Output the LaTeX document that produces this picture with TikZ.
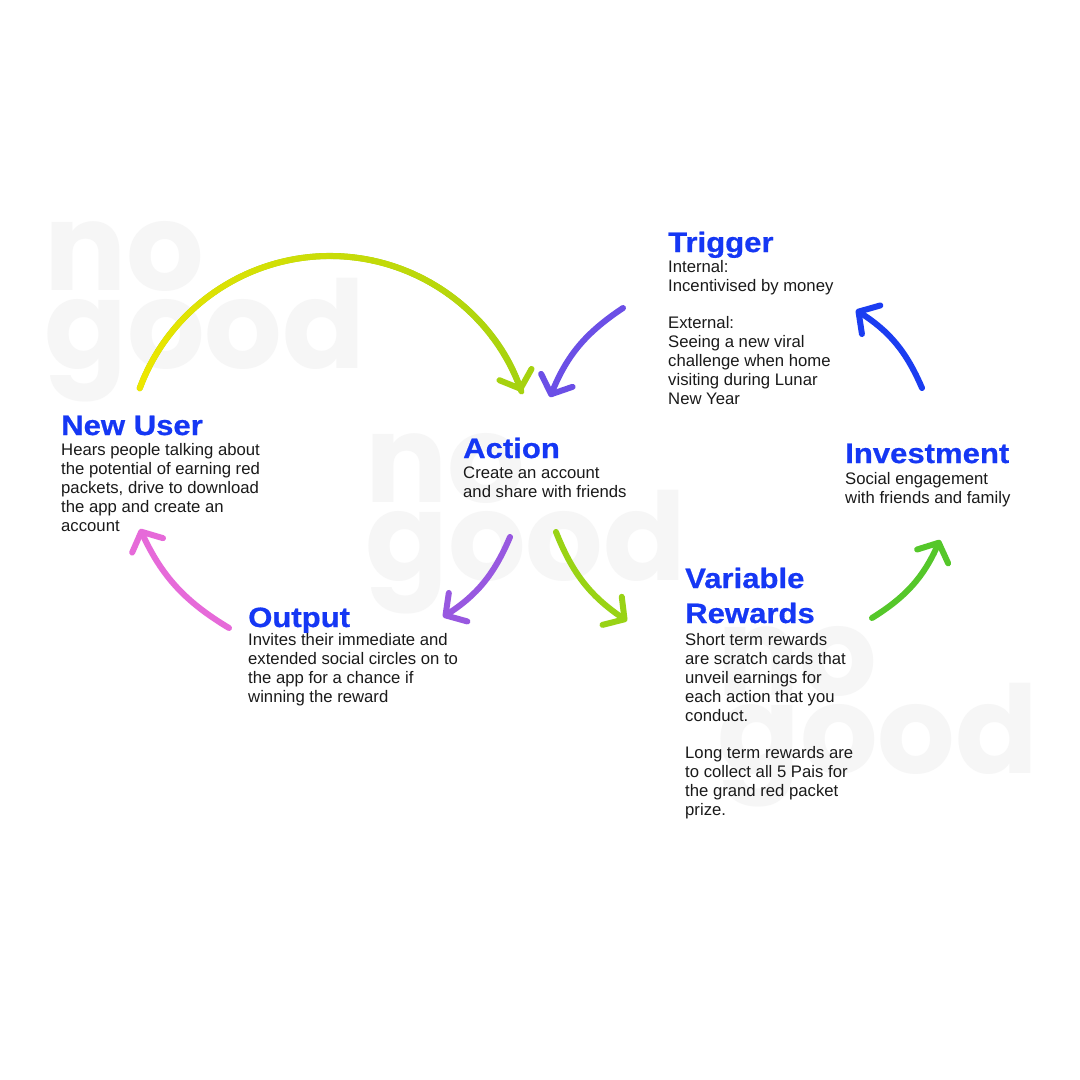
\documentclass[tikz,border=0pt]{standalone}
\usepackage{fontspec}
\setmainfont{Liberation Sans}
\newfontfamily\headfont{Liberation Sans Bold}[FakeStretch=1.11,FakeBold=0.7]
\newfontfamily\markfont{Poppins}
\usetikzlibrary{arrows.meta,positioning,calc}
\definecolor{headblue}{HTML}{1537F4}
\definecolor{inktext}{HTML}{1A1A1A}
\definecolor{wmgray}{HTML}{F6F6F6}
\definecolor{arcstart}{HTML}{EDE700}
\definecolor{arcend}{HTML}{A6D20F}
\definecolor{colviolet}{HTML}{6B4FE6}
\definecolor{collime}{HTML}{99D315}
\definecolor{colgreen}{HTML}{55C72A}
\definecolor{colblue}{HTML}{1B3DF1}
\definecolor{colpurple}{HTML}{9858E0}
\definecolor{colpink}{HTML}{E66AD9}

\begin{document}
\begin{tikzpicture}[
  x=1pt, y=-1pt,
  head/.style={font=\headfont\fontsize{28}{35}\selectfont,text=headblue,inner sep=0pt,anchor=base west,align=left},
  body/.style={font=\fontsize{16.7}{19}\selectfont,text=inktext,inner sep=0pt,anchor=base west,align=left},
  wmark/.style={font=\markfont\bfseries\fontsize{122}{122}\selectfont,text=wmgray,inner sep=0pt,anchor=base west},
  cyc/.style={line width=6pt,line cap=round,-{Straight Barb[length=15pt,width=34pt,round]}},
  arcpiece/.style={line width=6pt,line cap=round},
]
  \fill[white] (0,0) rectangle (1080,1080);
  \useasboundingbox (0,0) rectangle (1080,1080);

  % ---------------- watermarks ----------------
  \foreach \wx/\wy [count=\i] in {44/290, 365/502, 717/695} {
    \node[wmark] (wmNo\i) at (\wx,\wy) {no};
    \node[wmark] (wmGood\i) at (\wx,{\wy+78}) {good};
  }

  % ---------------- left loop ----------------
  \coordinate (arcC) at (330,459);
  \coordinate (nuArc) at ($(arcC)+(200.4:203)$);
  \draw[cyc,arcend] (nuArc) arc[start angle=200.4,end angle=340.6,radius=203];
  \foreach \k in {0,...,23} {
    \pgfmathsetmacro\sa{200.4+\k*5.84}
    \pgfmathsetmacro\pc{100-\k*100/23}
    \draw[arcpiece,arcstart!\pc!arcend] ($(arcC)+(\sa:203)$) arc[start angle=\sa,delta angle=5.84,radius=203];
  }
  \coordinate (acDown) at (510,537); \coordinate (outIn) at (443,617);
  \coordinate (outOut) at (229,628); \coordinate (nuIn) at (140,529);
  \draw[cyc,colpurple] (acDown) to[bend left=17] (outIn);
  \draw[cyc,colpink] (outOut) to[bend left=17] (nuIn);

  % ---------------- right loop ----------------
  \coordinate (trOut) at (623,308);  \coordinate (acIn) at (550,397);
  \coordinate (acOut) at (556,532);  \coordinate (rwIn) at (627,621);
  \coordinate (rwOut) at (872,618);  \coordinate (invIn) at (940,540);
  \coordinate (invOut) at (922,388); \coordinate (trIn) at (856,310);
  \draw[cyc,colviolet] (trOut) to[bend right=17] (acIn);
  \draw[cyc,collime] (acOut) to[bend right=17] (rwIn);
  \draw[cyc,colgreen] (rwOut) to[bend right=17] (invIn);
  \draw[cyc,colblue] (invOut) to[bend right=17] (trIn);

  % ---------------- texts (multi-line nodes sit on their last line) ----------------
  \node[head] (nuHead) at (61,435) {New User};
  \node[body] (nuBody) at (61,531) {Hears people talking about\\the potential of earning red\\packets, drive to download\\the app and create an\\account};
  \node[head] (acHead) at (463,458) {Action};
  \node[body] (acBody) at (463,497) {Create an account\\and share with friends};
  \node[head] (trHead) at (668,252) {Trigger};
  \node[body] (trBody) at (668,404) {Internal:\\Incentivised by money\\[18pt]External:\\Seeing a new viral\\challenge when home\\visiting during Lunar\\New Year};
  \node[head] (invHead) at (845,463) {Investment};
  \node[body] (invBody) at (845,503) {Social engagement\\with friends and family};
  \node[head] (rwHead) at (685,623) {Variable\\Rewards};
  \node[body] (rwBody) at (685,815) {Short term rewards\\are scratch cards that\\unveil earnings for\\each action that you\\conduct.\\[18pt]Long term rewards are\\to collect all 5 Pais for\\the grand red packet\\prize.};
  \node[head] (outHead) at (248,627) {Output};
  \node[body] (outBody) at (248,702) {Invites their immediate and\\extended social circles on to\\the app for a chance if\\winning the reward};
\end{tikzpicture}
\end{document}
